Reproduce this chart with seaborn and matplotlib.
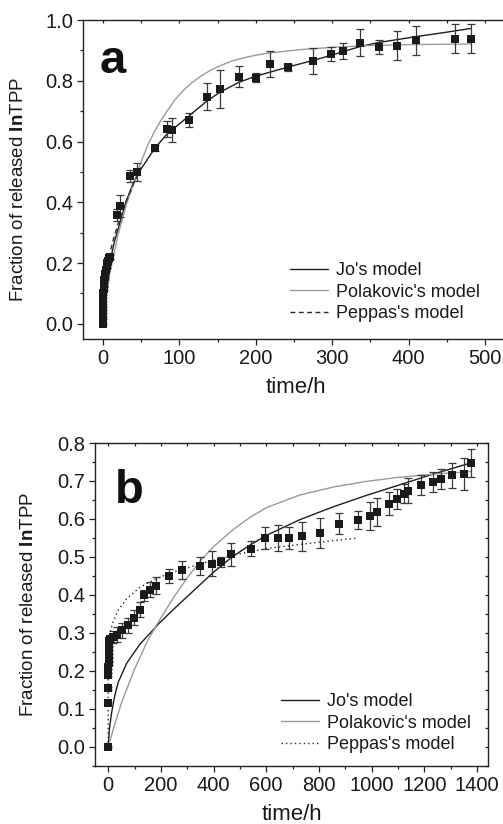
import numpy as np
import matplotlib
matplotlib.use("Agg")
import matplotlib.pyplot as plt
import seaborn as sns
from matplotlib.ticker import MultipleLocator, FormatStrFormatter

# ---- panel a: measured release ----
t_a = [0, 0.1, 0.2, 0.3, 0.5, 0.7, 1, 1.5, 2, 2.5, 3, 4, 5, 6, 7, 8, 9,
       18, 22, 35, 45, 68, 84, 90, 113, 136, 153, 178, 200, 218, 242, 275,
       298, 314, 337, 361, 385, 409, 461, 481]
f_a = [0, 0.02, 0.04, 0.06, 0.08, 0.10, 0.115, 0.13, 0.145, 0.155, 0.165,
       0.178, 0.19, 0.2, 0.208, 0.215, 0.22,
       0.358, 0.388, 0.487, 0.50, 0.578, 0.64, 0.638, 0.671, 0.748, 0.773,
       0.814, 0.81, 0.854, 0.844, 0.866, 0.888, 0.899, 0.925, 0.91, 0.916,
       0.933, 0.939, 0.939]
err_a = [0.004, 0.004, 0.004, 0.004, 0.004, 0.004, 0.005, 0.005, 0.005, 0.005,
         0.005, 0.005, 0.006, 0.006, 0.006, 0.006, 0.006,
         0.02, 0.036, 0.019, 0.03, 0.01, 0.026, 0.038, 0.022, 0.045, 0.062,
         0.033, 0.015, 0.043, 0.011, 0.043, 0.022, 0.026, 0.045, 0.023, 0.047,
         0.047, 0.047, 0.047]

# ---- panel a: model curves ----
jo_t_a = [0, 2, 5, 9, 15, 22, 30, 40, 50, 68, 84, 100, 113, 136, 153, 178,
          200, 242, 275, 300, 337, 361, 409, 450, 481]
jo_f_a = [0, 0.07, 0.13, 0.2, 0.27, 0.33, 0.40, 0.465, 0.51, 0.578, 0.625,
          0.658, 0.685, 0.733, 0.762, 0.795, 0.815, 0.845, 0.867, 0.885, 0.913,
          0.926, 0.945, 0.96, 0.972]
pol_t_a = [0, 3, 9, 20, 31, 40, 48, 59, 68, 76, 84, 95, 106, 117, 128, 140,
           150, 170, 190, 213, 256, 300, 350, 400, 481]
pol_f_a = [0, 0.06, 0.165, 0.295, 0.395, 0.46, 0.52, 0.59, 0.635, 0.67, 0.70,
           0.74, 0.77, 0.795, 0.815, 0.833, 0.846, 0.866, 0.879, 0.89, 0.902,
           0.91, 0.916, 0.919, 0.921]
pep_t_a = [0, 0.3, 1, 3, 7, 13.5, 20, 30, 40, 50]
pep_f_a = [0, 0.05, 0.09, 0.15, 0.21, 0.276, 0.33, 0.40, 0.46, 0.515]

# ---- panel b: measured release ----
t_b = [0, 0.25, 0.5, 0.75, 1, 1.25, 1.5, 2, 2.5, 3, 3.5, 4, 5, 6,
       19, 34, 51, 76, 97, 120, 135, 158, 183, 231, 280,
       348, 395, 428, 468, 544, 597, 643, 687, 734, 806,
       876, 949, 993, 1022, 1065, 1097, 1122, 1138, 1186, 1233,
       1265, 1306, 1351, 1379]
f_b = [0, 0.115, 0.155, 0.19, 0.20, 0.21, 0.22, 0.23, 0.24, 0.25, 0.26, 0.27,
       0.28, 0.285,
       0.29, 0.296, 0.307, 0.32, 0.34, 0.361, 0.399, 0.414, 0.425, 0.45, 0.466,
       0.476, 0.482, 0.487, 0.507, 0.522, 0.55, 0.55, 0.55, 0.554, 0.563,
       0.588, 0.598, 0.608, 0.618, 0.64, 0.653, 0.667, 0.675, 0.69, 0.697,
       0.706, 0.715, 0.719, 0.748]
err_b = [0.003, 0.004, 0.004, 0.004, 0.004, 0.004, 0.004, 0.004, 0.004, 0.004,
         0.004, 0.005, 0.005, 0.005,
         0.015, 0.02, 0.02, 0.02, 0.02, 0.02, 0.015, 0.02, 0.022, 0.018, 0.024,
         0.024, 0.033, 0.013, 0.031, 0.02, 0.028, 0.033, 0.028, 0.038, 0.04,
         0.028, 0.023, 0.036, 0.036, 0.03, 0.026, 0.026, 0.032, 0.026, 0.026,
         0.026, 0.033, 0.042, 0.037]

# ---- panel b: model curves ----
jo_t_b = [0, 5, 13, 25, 38, 70, 120, 197, 260, 330, 400, 470, 540, 601, 727,
          854, 980, 1107, 1233, 1379]
jo_f_b = [0, 0.05, 0.09, 0.135, 0.17, 0.22, 0.27, 0.328, 0.37, 0.415, 0.46,
          0.5, 0.532, 0.557, 0.598, 0.632, 0.662, 0.69, 0.718, 0.748]
pol_t_b = [0, 25, 50, 100, 150, 200, 250, 300, 350, 400, 474, 540, 601, 727,
           854, 980, 1107, 1233, 1379]
pol_f_b = [0, 0.06, 0.115, 0.205, 0.28, 0.34, 0.395, 0.445, 0.49, 0.527,
           0.572, 0.605, 0.63, 0.663, 0.684, 0.699, 0.71, 0.718, 0.725]
pep_t_b = [0, 0.5, 2, 5, 10, 19, 38, 70, 120, 183, 234, 348, 474, 601, 727,
           850, 949]
pep_f_b = [0, 0.2, 0.25, 0.28, 0.31, 0.33, 0.36, 0.39, 0.42, 0.443, 0.457,
           0.482, 0.505, 0.522, 0.533, 0.543, 0.55]

sns.set_style("ticks")
plt.rcParams["font.family"] = ["Liberation Sans", "DejaVu Sans"]
plt.rcParams["mathtext.fontset"] = "custom"
plt.rcParams["mathtext.rm"] = "Liberation Sans"
plt.rcParams["mathtext.bf"] = "Liberation Sans:bold"

fig = plt.figure(figsize=(5.03, 8.24), dpi=100)
ax_a = fig.add_axes([83 / 503, 1 - 339 / 824, 425 / 503, 319 / 824])
ax_b = fig.add_axes([95 / 503, 1 - 766 / 824, 393 / 503, 323 / 824])

jo_c, pol_c, pt_c = "#1e1e1e", "#9a9a9a", "#1a1a1a"
txt_c = "#1a1a1a"


def draw_panel(ax, t, f, err, jo, pol, pep, pep_dash):
    sns.lineplot(x=jo[0], y=jo[1], ax=ax, color=jo_c, lw=1.0, sort=False,
                 estimator=None, label="Jo's model")
    sns.lineplot(x=pol[0], y=pol[1], ax=ax, color=pol_c, lw=1.0, sort=False,
                 estimator=None, label="Polakovic's model")
    sns.lineplot(x=pep[0], y=pep[1], ax=ax, color="#2a2a2a", lw=1.0,
                 sort=False, estimator=None, label="Peppas's model")
    ax.lines[-1].set_dashes(pep_dash)
    ax.errorbar(t, f, yerr=err, fmt="none", ecolor="#3a3a3a", elinewidth=0.9,
                capsize=2.6, capthick=0.9, zorder=3)
    sns.scatterplot(x=t, y=f, ax=ax, marker="s", s=30, color=pt_c,
                    linewidth=0, zorder=4)
    for s in ax.spines.values():
        s.set_color("#222222")
        s.set_linewidth(1.0)
    ax.tick_params(axis="both", which="major", direction="out", length=4,
                   width=0.9, color="#222222", labelsize=14.5,
                   labelcolor=txt_c, pad=3)
    ax.tick_params(axis="both", which="minor", direction="out", length=2.5,
                   width=0.9, color="#222222")
    ax.yaxis.set_major_formatter(FormatStrFormatter("%.1f"))
    ax.tick_params(axis="x", which="both", top=True, labeltop=False)


# panel a
draw_panel(ax_a, t_a, f_a, err_a, (jo_t_a, jo_f_a), (pol_t_a, pol_f_a),
           (pep_t_a, pep_f_a), (3.5, 2.5))
ax_a.set_xlim(-26, 530)
ax_a.set_ylim(-0.05, 1.0)
ax_a.xaxis.set_major_locator(MultipleLocator(100))
ax_a.xaxis.set_minor_locator(MultipleLocator(50))
ax_a.yaxis.set_major_locator(MultipleLocator(0.2))
ax_a.yaxis.set_minor_locator(MultipleLocator(0.1))
ax_a.spines["right"].set_visible(False)

# panel b
draw_panel(ax_b, t_b, f_b, err_b, (jo_t_b, jo_f_b), (pol_t_b, pol_f_b),
           (pep_t_b, pep_f_b), (1.0, 2.2))
ax_b.set_xlim(-50, 1442)
ax_b.set_ylim(-0.05, 0.8)
ax_b.xaxis.set_major_locator(MultipleLocator(200))
ax_b.xaxis.set_minor_locator(MultipleLocator(100))
ax_b.yaxis.set_major_locator(MultipleLocator(0.1))
ax_b.yaxis.set_minor_locator(MultipleLocator(0.05))
ax_b.tick_params(axis="y", which="both", right=True, labelright=False)

# top / right ticks point inwards, bottom / left outwards
for ax in (ax_a, ax_b):
    for tk in ax.xaxis.get_major_ticks() + ax.xaxis.get_minor_ticks():
        tk.tick2line.set_marker(3)
        tk.tick2line.set_markersize(2.5)
    for tk in ax.yaxis.get_major_ticks() + ax.yaxis.get_minor_ticks():
        tk.tick2line.set_marker(0)
        tk.tick2line.set_markersize(2.5)

ylab = "Fraction of released $\\mathbf{In}$TPP"
for ax in (ax_a, ax_b):
    ax.set_ylabel(ylab, fontsize=13.5, color=txt_c)
    ax.set_xlabel("time/h", fontsize=16, color=txt_c, labelpad=7)
ax_a.yaxis.set_label_coords(-0.132, 0.47)
ax_b.yaxis.set_label_coords(-0.148, 0.5)

ax_a.text(0.04, 0.834, "a", transform=ax_a.transAxes, fontsize=34,
          fontweight="bold", va="baseline", ha="left", color="#111111")
ax_b.text(0.051, 0.814, "b", transform=ax_b.transAxes, fontsize=34,
          fontweight="bold", va="baseline", ha="left", color="#111111")

for ax, (x0, y0) in ((ax_a, (281, 253)), (ax_b, (272, 684))):
    ax.legend(loc="upper left", bbox_to_anchor=(x0 / 503, 1 - y0 / 824),
              bbox_transform=fig.transFigure, frameon=False, fontsize=13,
              borderpad=0, handlelength=2.1, handletextpad=0.45,
              labelspacing=0.25, labelcolor=txt_c)

fig.savefig("out.png", dpi=100)
